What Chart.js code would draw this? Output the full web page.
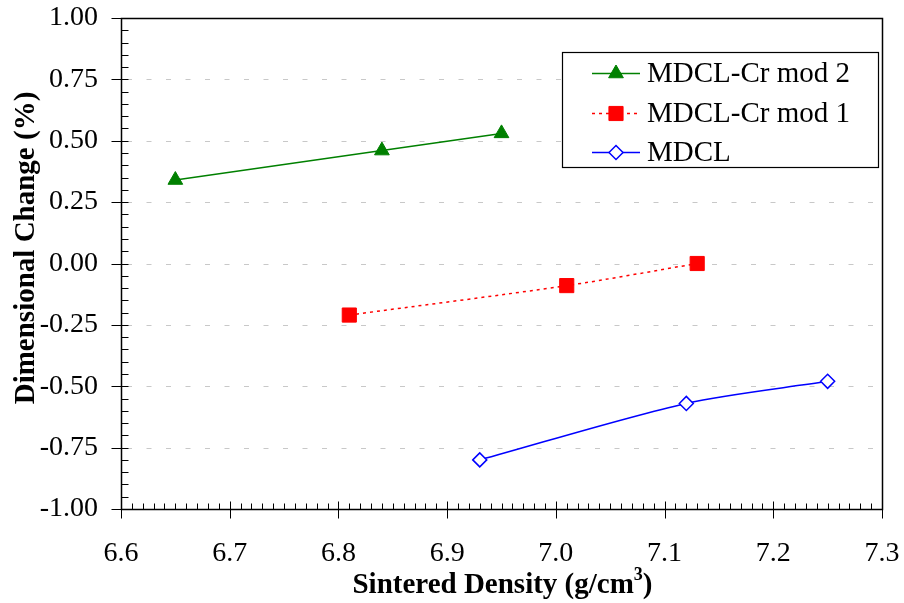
<!DOCTYPE html>
<html>
<head>
<meta charset="utf-8">
<script src="https://cdn.jsdelivr.net/npm/chart.js@4/dist/chart.umd.min.js"></script>
<style>
  html, body { margin: 0; padding: 0; background: #fff; }
  #wrap { width: 904px; height: 603px; }
</style>
</head>
<body>
<div id="wrap"><canvas id="c" width="904" height="603"></canvas></div>
<script>
// ---- data ----
const seriesNames = ['MDCL-Cr mod 2', 'MDCL-Cr mod 1', 'MDCL'];
const mod2X = [6.65, 6.84, 6.95];
const mod2Y = [0.34, 0.46, 0.53];
const mod1X = [6.81, 7.01, 7.13];
const mod1Y = [-0.21, -0.09, 0.00];
const mdclX = [6.93, 7.12, 7.25];
const mdclY = [-0.80, -0.57, -0.48];
const xTicks = [6.6, 6.7, 6.8, 6.9, 7.0, 7.1, 7.2, 7.3];
const yTicks = [-1.00, -0.75, -0.50, -0.25, 0.00, 0.25, 0.50, 0.75, 1.00];
const xTitleMain = 'Sintered Density (g/cm';
const xTitleSup = '3';
const xTitleEnd = ')';
const yTitle = 'Dimensional Change (%)';

const pts = (xs, ys) => xs.map((x, i) => ({x: x, y: ys[i]}));
const SERIF = "'Liberation Serif', 'Times New Roman', serif";

const datasets = [
  { label: seriesNames[0], data: pts(mod2X, mod2Y), borderColor: '#008000', backgroundColor: '#008000',
    borderWidth: 1.5, pointStyle: 'triangle', pointRadius: 8.5, pointBorderWidth: 1, tension: 0.3 },
  { label: seriesNames[1], data: pts(mod1X, mod1Y), borderColor: '#ff0000', backgroundColor: '#ff0000',
    borderWidth: 1.5, borderDash: [3, 4], pointStyle: 'rect', pointRadius: 10, pointBorderWidth: 1, tension: 0.3 },
  { label: seriesNames[2], data: pts(mdclX, mdclY), borderColor: '#0000ff', backgroundColor: '#ffffff',
    borderWidth: 1.5, pointStyle: 'rectRot', pointRadius: 7, pointBorderWidth: 1.5, tension: 0.3 }
];

const decorPlugin = {
  id: 'decor',
  beforeDatasetsDraw(chart) {
    const {ctx, chartArea: a, scales: {y}} = chart;
    ctx.save();
    ctx.strokeStyle = '#c8c8c8';
    ctx.lineWidth = 1;
    ctx.setLineDash([5, 14.5]);
    yTicks.forEach(v => {
      if (v <= -1 || v >= 1) return;
      const py = Math.round(y.getPixelForValue(v)) + 0.5;
      ctx.beginPath(); ctx.moveTo(a.left + 6, py); ctx.lineTo(a.right, py); ctx.stroke();
    });
    ctx.restore();
  },
  afterDatasetsDraw(chart) {
    const {ctx, chartArea: a, scales: {x, y}} = chart;
    ctx.save();
    ctx.strokeStyle = '#000';
    ctx.lineWidth = 1.5;
    const L = Math.round(a.left) + 0.5, R = Math.round(a.right) + 0.5;
    const T = Math.round(a.top) + 0.5, B = Math.round(a.bottom) + 0.5;
    ctx.beginPath();
    ctx.moveTo(L, T); ctx.lineTo(R, T); ctx.lineTo(R, B); ctx.lineTo(L, B); ctx.closePath();
    ctx.stroke();
    ctx.lineWidth = 1;
    for (let i = 0; i < yTicks.length - 1; i++) {
      const v0 = yTicks[i], v1 = yTicks[i + 1];
      for (let k = 0; k < 5; k++) {
        const v = v0 + (v1 - v0) * k / 5;
        const py = Math.round(y.getPixelForValue(v)) + 0.5;
        ctx.beginPath();
        if (k === 0) { ctx.moveTo(L - 10, py); ctx.lineTo(L + 7, py); }
        else { ctx.moveTo(L, py); ctx.lineTo(L + 7, py); }
        ctx.stroke();
      }
    }
    { const py = Math.round(y.getPixelForValue(yTicks[yTicks.length-1])) + 0.5;
      ctx.beginPath(); ctx.moveTo(L - 10, py); ctx.lineTo(L, py); ctx.stroke(); }
    for (let i = 0; i < xTicks.length - 1; i++) {
      const v0 = xTicks[i], v1 = xTicks[i + 1];
      for (let k = 0; k < 10; k++) {
        const v = v0 + (v1 - v0) * k / 10;
        const px = Math.round(x.getPixelForValue(v)) + 0.5;
        ctx.beginPath();
        if (k === 0) { ctx.moveTo(px, B - 8); ctx.lineTo(px, B + 9); }
        else { ctx.moveTo(px, B); ctx.lineTo(px, B - 6); }
        ctx.stroke();
      }
    }
    { const px = Math.round(x.getPixelForValue(xTicks[xTicks.length-1])) + 0.5;
      ctx.beginPath(); ctx.moveTo(px, B); ctx.lineTo(px, B + 9); ctx.stroke(); }
    ctx.restore();
  },
  afterDraw(chart) {
    const {ctx, chartArea: a} = chart;
    ctx.save();
    ctx.fillStyle = '#000';
    ctx.font = 'bold 29px ' + SERIF;
    ctx.textBaseline = 'middle';
    ctx.textAlign = 'left';
    const w1 = ctx.measureText(xTitleMain).width;
    ctx.font = 'bold 18px ' + SERIF;
    const w2 = ctx.measureText(xTitleSup).width;
    ctx.font = 'bold 29px ' + SERIF;
    const w3 = ctx.measureText(xTitleEnd).width;
    const cx = (a.left + a.right) / 2 + 1;
    let sx = cx - (w1 + w2 + w3) / 2;
    const ty = 586;
    ctx.fillText(xTitleMain, sx, ty);
    ctx.font = 'bold 18px ' + SERIF;
    ctx.fillText(xTitleSup, sx + w1, ty - 11);
    ctx.font = 'bold 29px ' + SERIF;
    ctx.fillText(xTitleEnd, sx + w1 + w2, ty);

    ctx.save();
    ctx.translate(27, 248);
    ctx.rotate(-Math.PI / 2);
    ctx.textAlign = 'center';
    ctx.fillText(yTitle, 0, 0);
    ctx.restore();

    const bx = 562.5, by = 52.5, bw = 316, bh = 115;
    ctx.fillStyle = '#fff';
    ctx.fillRect(bx, by, bw, bh);
    ctx.strokeStyle = '#000'; ctx.lineWidth = 1.2; ctx.setLineDash([]);
    ctx.strokeRect(bx, by, bw, bh);
    const rows = [73, 113, 152];
    chart.data.datasets.forEach((ds, i) => {
      const ry = rows[i];
      ctx.save();
      ctx.strokeStyle = ds.borderColor; ctx.lineWidth = ds.borderWidth;
      ctx.setLineDash(ds.borderDash || []);
      ctx.beginPath(); ctx.moveTo(592, ry + 0.5); ctx.lineTo(640, ry + 0.5); ctx.stroke();
      ctx.setLineDash([]);
      ctx.fillStyle = ds.backgroundColor; ctx.lineWidth = ds.pointBorderWidth;
      Chart.helpers.drawPoint(ctx, {pointStyle: ds.pointStyle, radius: ds.pointRadius, rotation: 0,
        borderWidth: ds.pointBorderWidth}, 616, ry + 0.5);
      ctx.restore();
      ctx.fillStyle = '#000';
      ctx.font = '29px ' + SERIF;
      ctx.textBaseline = 'middle';
      ctx.textAlign = 'left';
      ctx.fillText(ds.label, 647, ry + 1);
    });
    ctx.restore();
  }
};

new Chart(document.getElementById('c'), {
  type: 'scatter',
  data: { datasets: datasets.map(d => Object.assign({showLine: true, fill: false}, d)) },
  options: {
    responsive: false,
    animation: false,
    layout: { padding: { left: 0, right: 22, top: 18, bottom: 0 } },
    plugins: { legend: { display: false }, tooltip: { enabled: false } },
    scales: {
      x: {
        type: 'linear', min: xTicks[0], max: xTicks[xTicks.length - 1],
        afterBuildTicks: s => { s.ticks = xTicks.map(v => ({value: v})); },
        afterFit: s => { s.height = 94; s.paddingLeft = 0; s.paddingRight = 0; s.paddingTop = 0; s.paddingBottom = 0; },
        grid: { display: false, drawTicks: false },
        border: { display: false },
        ticks: { padding: 28, color: '#000', font: { family: SERIF, size: 28 }, maxRotation: 0,
          callback: v => Number(v).toFixed(1) },
        title: { display: false }
      },
      y: {
        type: 'linear', min: yTicks[0], max: yTicks[yTicks.length - 1],
        afterBuildTicks: s => { s.ticks = yTicks.map(v => ({value: v})); },
        afterFit: s => { s.width = 121; s.paddingLeft = 0; s.paddingRight = 0; s.paddingTop = 0; s.paddingBottom = 0; },
        grid: { display: false, drawTicks: false },
        border: { display: false },
        ticks: { padding: 23, color: '#000', font: { family: SERIF, size: 28 },
          callback: v => Number(v).toFixed(2) },
        title: { display: false }
      }
    }
  },
  plugins: [decorPlugin]
});
</script>
</body>
</html>
